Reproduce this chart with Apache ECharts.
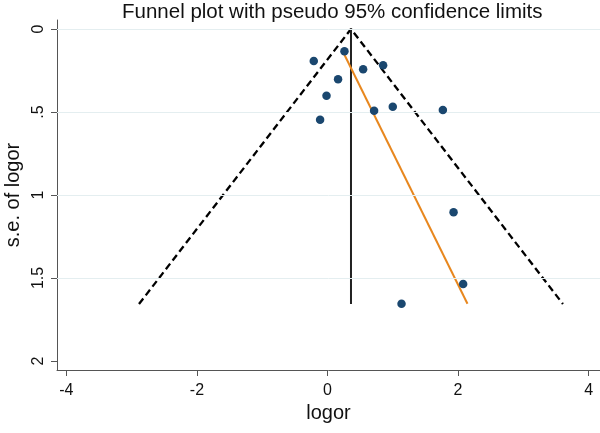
<!DOCTYPE html>
<html>
<head>
<meta charset="utf-8">
<script src="https://cdn.jsdelivr.net/npm/echarts@6/dist/echarts.min.js"></script>
<style>
html,body{margin:0;padding:0;background:#fff;}
#chart{width:600px;height:433px;}
</style>
</head>
<body>
<div id="chart"></div>
<script>
// ---- data ----
const titleText = "Funnel plot with pseudo 95% confidence limits";
const xName = "logor";
const yName = "s.e. of logor";
const xTicks = [-4, -2, 0, 2, 4];
const yTicks = [0, 0.5, 1, 1.5, 2];
const yTickLabels = ["0", ".5", "1", "1.5", "2"];
const yGridValues = [0, 0.5, 1, 1.5];

// studies
const logor   = [0.26, -0.21, 0.546, 0.852, 0.162, -0.015, 0.714, 1.0, 1.767, -0.113, 1.931, 2.078, 1.134];
const seLogor = [0.134, 0.193, 0.243, 0.219, 0.303, 0.402, 0.492, 0.468, 0.488, 0.546, 1.104, 1.536, 1.655];

// pseudo 95% limits (funnel)
const funnelX = [-2.887, 0.36, 3.607];
const funnelY = [1.657, 0, 1.657];
// pooled estimate line
const pooledX = [0.36, 0.36];
const pooledY = [0, 1.657];
// fitted (orange) line
const fitX = [0.233, 2.144];
const fitY = [0.134, 1.655];

const FONT = "'Liberation Sans', Arial, Helvetica, sans-serif";
const zip = (a, b) => a.map((v, i) => [v, b[i]]);

const chart = echarts.init(document.getElementById('chart'), null, {renderer: 'canvas'});
chart.setOption({
  backgroundColor: '#ffffff',
  animation: false,
  title: {
    text: titleText,
    left: 122, top: 2, padding: 0,
    textStyle: {fontFamily: FONT, fontSize: 20.5, fontWeight: 'normal', color: '#111'}
  },
  grid: {left: 57, right: 0, top: 20, bottom: 63, containLabel: false, outerBoundsMode: 'none'},
  xAxis: {
    type: 'value',
    min: -4.143, max: 4.174,
    name: xName, nameLocation: 'middle', nameGap: 32,
    nameTextStyle: {fontFamily: FONT, fontSize: 20, color: '#111'},
    axisLine: {show: true, onZero: false, lineStyle: {color: '#555', width: 1}},
    axisTick: {show: true, length: 6, customValues: xTicks, lineStyle: {color: '#555'}},
    axisLabel: {customValues: xTicks, margin: 13, fontFamily: FONT, fontSize: 16, color: '#111',
      formatter: v => String(v)},
    splitLine: {show: false}
  },
  yAxis: {
    type: 'value', inverse: true,
    min: -0.0542, max: 2.0542,
    name: yName, nameLocation: 'middle', nameGap: 34, nameRotate: 90,
    nameTextStyle: {fontFamily: FONT, fontSize: 20, color: '#111'},
    axisLine: {show: true, onZero: false, lineStyle: {color: '#555', width: 1}},
    axisTick: {show: true, length: 6, customValues: yTicks, lineStyle: {color: '#555'}},
    axisLabel: {customValues: yTicks, rotate: 90, margin: 10, fontFamily: FONT, fontSize: 16, color: '#111',
      formatter: v => { const i = yTicks.indexOf(v); return i >= 0 ? yTickLabels[i] : ''; }},
    splitLine: {show: false}
  },
  series: [
    {
      type: 'line', data: [], silent: true,
      markLine: {
        silent: true, symbol: ['none', 'none'], label: {show: false},
        lineStyle: {color: '#e4eef0', width: 1, type: 'solid'},
        data: yGridValues.map(v => ({yAxis: v}))
      },
      z: 1
    },
    {
      type: 'line', data: zip(funnelX, funnelY), showSymbol: false, silent: true,
      lineStyle: {color: '#000', width: 2.3, type: [7, 4]}, z: 3
    },
    {
      type: 'line', data: zip(pooledX, pooledY), showSymbol: false, silent: true,
      lineStyle: {color: '#222', width: 2}, z: 3
    },
    {
      type: 'line', data: zip(fitX, fitY), showSymbol: false, silent: true,
      lineStyle: {color: '#e8871e', width: 2}, z: 4
    },
    {
      type: 'scatter', data: zip(logor, seLogor), symbol: 'circle', symbolSize: 8.5,
      itemStyle: {color: '#1a476f', opacity: 1}, z: 5
    }
  ]
});
</script>
</body>
</html>
